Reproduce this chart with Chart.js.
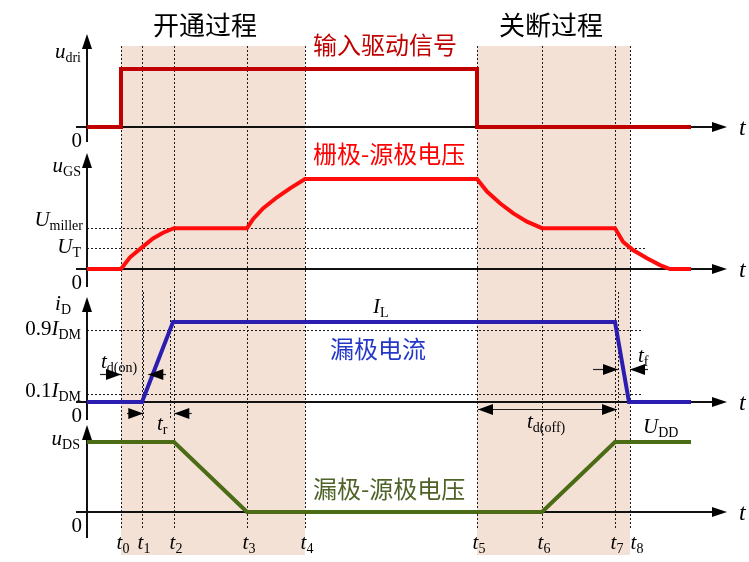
<!DOCTYPE html>
<html>
<head>
<meta charset="utf-8">
<title>MOSFET 开关过程</title>
<script src="https://cdn.jsdelivr.net/npm/chart.js@4.4.0/dist/chart.umd.min.js"></script>
<style>
  html, body { margin: 0; padding: 0; background: #fff; }
  #wrap { width: 749px; height: 562px; }
</style>
</head>
<body>
<div id="wrap"><canvas id="mosChart" width="749" height="562"></canvas></div>
<script>
// time instants t0..t8 (x unit = 10 px of the original drawing)
const timeNames = ['0', '1', '2', '3', '4', '5', '6', '7', '8'];
const timeValues = [3.4, 5.5, 8.7, 16.0, 21.8, 39.0, 45.5, 52.8, 54.3];

// input drive signal (normalised)
const driTime = [0, 3.4, 3.4, 39.0, 39.0, 60.4];
const driValues = [0, 0, 1, 1, 0, 0];

// gate-source voltage (V)
const gsTime = [0, 3.4, 4.3, 5.5, 6.6, 7.6, 8.7, 16.0, 16.6, 17.6, 19.0, 20.3, 21.8,
  39.0, 40.0, 41.3, 42.6, 44.0, 45.5, 52.8, 53.6, 54.6, 56.0, 57.3, 58.3, 60.4];
const gsValues = [0, 0, 1.95, 3.6, 5.1, 6.05, 6.8, 6.8, 8.3, 10.1, 11.95, 13.45, 15,
  15, 12.9, 10.95, 9.3, 7.9, 6.8, 6.8, 4.55, 3.15, 1.8, 0.65, 0, 0];
const gsLevels = [6.8, 3.5];          // U_miller, U_T

// drain current (in I_DM)
const idTime = [0, 5.5, 8.6, 52.8, 54.2, 60.4];
const idValues = [0, 0, 1, 1, 0, 0];
const idLevels = [0.9, 0.1];

// drain-source voltage (in U_DD)
const dsTime = [0, 8.7, 16.0, 45.5, 52.8, 60.4];
const dsValues = [1, 1, 0, 0, 1, 1];

const toXY = (ts, vs) => ts.map((t, i) => ({ x: t, y: vs[i] }));

const SERIF = '"Liberation Serif", "Times New Roman", serif';
const CJK = '"Noto Sans CJK SC", "Noto Sans", sans-serif';

// text with italic letters and subscripts: parts = [[text, 'i'|'n'|'s'], ...]
function richText(ctx, parts, x, y, align) {
    const fonts = { i: 'italic 21px ' + SERIF, n: '21px ' + SERIF, s: '14px ' + SERIF };
    const dy = { i: 0, n: 0, s: 4 };
    let w = 0;
    parts.forEach(p => { ctx.font = fonts[p[1]]; w += ctx.measureText(p[0]).width; });
    let cx = align === 'right' ? x - w : (align === 'center' ? x - w / 2 : x);
    ctx.textAlign = 'left';
    ctx.textBaseline = 'alphabetic';
    parts.forEach(p => {
        ctx.font = fonts[p[1]];
        ctx.fillText(p[0], cx, y + dy[p[1]]);
        cx += ctx.measureText(p[0]).width;
    });
}

function arrowHead(ctx, x, y, dir, len, half) {
    ctx.beginPath();
    if (dir === 'up') { ctx.moveTo(x, y); ctx.lineTo(x - half, y + len); ctx.lineTo(x + half, y + len); }
    else if (dir === 'right') { ctx.moveTo(x, y); ctx.lineTo(x - len, y - half); ctx.lineTo(x - len, y + half); }
    else { ctx.moveTo(x, y); ctx.lineTo(x + len, y - half); ctx.lineTo(x + len, y + half); }
    ctx.closePath();
    ctx.fill();
}

function seg(ctx, x1, y1, x2, y2) {
    ctx.beginPath(); ctx.moveTo(x1, y1); ctx.lineTo(x2, y2); ctx.stroke();
}

const mosfetDecor = {
    id: 'mosfetDecor',
    beforeDatasetsDraw(chart) {
        const ctx = chart.ctx;
        const X = v => chart.scales.x.getPixelForValue(v);
        const Y = (id, v) => chart.scales[id].getPixelForValue(v);
        const top = Y('yDri', 0) - 81;
        const shadeBottom = Y('yDS', 0) + 43;
        const dotBottom = Y('yDS', 0) + 16;

        ctx.save();
        // shaded switching intervals
        ctx.fillStyle = '#f4e1d5';
        ctx.fillRect(X(timeValues[0]), top, X(timeValues[4]) - X(timeValues[0]), shadeBottom - top);
        ctx.fillRect(X(timeValues[5]), top, X(timeValues[8]) - X(timeValues[5]), shadeBottom - top);

        // dotted guides
        ctx.strokeStyle = '#1a1a1a';
        ctx.lineWidth = 1;
        ctx.setLineDash([2, 2]);
        timeValues.forEach(t => {
            const x = Math.round(X(t)) + 0.5;
            seg(ctx, x, top, x, dotBottom);
        });
        [5.6, 8.3, 53.1].forEach(t => {
            const x = Math.round(X(t)) + 0.5;
            seg(ctx, x, Y('yD', 0) - 110, x, Y('yD', 0) + 18);
        });
        const gsEnds = [39.1, 56.0];
        gsLevels.forEach((v, i) => {
            const y = Math.round(Y('yGS', v)) + 0.5;
            seg(ctx, X(0), y, X(gsEnds[i]), y);
        });
        idLevels.forEach(v => {
            const y = Math.round(Y('yD', v)) + 0.5;
            seg(ctx, X(0), y, X(55.6), y);
        });
        ctx.setLineDash([]);

        // axes with arrows
        const panels = [['yDri', -93, 15], ['yGS', -116, 18], ['yD', -105, 18], ['yDS', -87, 26]];
        ctx.strokeStyle = '#111';
        ctx.fillStyle = '#000';
        ctx.lineWidth = 2;
        panels.forEach(p => {
            const y0 = Y(p[0], 0);
            const x0 = X(0);
            seg(ctx, x0, y0 + p[1] + 10, x0, y0 + p[2]);
            arrowHead(ctx, x0, y0 + p[1], 'up', 15, 5);
            seg(ctx, X(-1.1), y0, X(64) - 12, y0);
            arrowHead(ctx, X(64), y0, 'right', 15, 5);
        });
        ctx.restore();
    },
    afterDatasetsDraw(chart) {
        const ctx = chart.ctx;
        const X = v => chart.scales.x.getPixelForValue(v);
        const Y = (id, v) => chart.scales[id].getPixelForValue(v);
        const z1 = Y('yDri', 0), z2 = Y('yGS', 0), z3 = Y('yD', 0), z4 = Y('yDS', 0);

        ctx.save();
        ctx.fillStyle = '#000';

        // axis names
        richText(ctx, [['u', 'i'], ['dri', 's']], 81, z1 - 69, 'right');
        richText(ctx, [['u', 'i'], ['GS', 's']], 81, z2 - 97, 'right');
        richText(ctx, [['U', 'i'], ['miller', 's']], 83, z2 - 43, 'right');
        richText(ctx, [['U', 'i'], ['T', 's']], 81, z2 - 16, 'right');
        richText(ctx, [['i', 'i'], ['D', 's']], 71, z3 - 92, 'right');
        richText(ctx, [['0.9', 'n'], ['I', 'i'], ['DM', 's']], 81, z3 - 67, 'right');
        richText(ctx, [['0.1', 'n'], ['I', 'i'], ['DM', 's']], 81, z3 - 5, 'right');
        richText(ctx, [['u', 'i'], ['DS', 's']], 80, z4 - 67, 'right');
        [z1, z2, z3, z4].forEach(z => {
            richText(ctx, [['0', 'n']], 82, z + 20, 'right');
            ctx.font = 'italic 24px ' + SERIF;
            ctx.fillText('t', 739, z + 8);
        });

        // time instants
        timeValues.forEach((t, i) => {
            const shift = i === 8 ? 7 : 2;
            richText(ctx, [['t', 'i'], [timeNames[i], 's']], X(t) + shift, z4 + 37, 'center');
        });

        // level / interval names
        richText(ctx, [['I', 'i'], ['L', 's']], X(28.6), z3 - 89, 'left');
        richText(ctx, [['U', 'i'], ['DD', 's']], X(55.6), z4 - 79, 'left');
        richText(ctx, [['t', 'i'], ['d(on)', 's']], X(1.4), z3 - 34, 'left');
        richText(ctx, [['t', 'i'], ['r', 's']], X(7.0), z3 + 28, 'left');
        richText(ctx, [['t', 'i'], ['d(off)', 's']], X(44.0), z3 + 26, 'left');
        richText(ctx, [['t', 'i'], ['f', 's']], X(55.1), z3 - 40, 'left');

        // interval arrows
        ctx.strokeStyle = '#222';
        ctx.lineWidth = 1.2;
        const arrows = [
            [z3 - 28, 1.3, 3.4, 'right'], [z3 - 28, 7.9, 6.13, 'left'],
            [z3 + 11, 4.0, 5.63, 'right'], [z3 + 11, 10.47, 8.73, 'left'],
            [z3 - 33, 50.6, 53.1, 'right'], [z3 - 33, 56.1, 54.3, 'left']
        ];
        arrows.forEach(a => {
            const y = Math.round(a[0]) + 0.5;
            seg(ctx, X(a[1]), y, X(a[2]), y);
            arrowHead(ctx, X(a[2]), y, a[3], 15, 5.5);
        });
        const yo = Math.round(z3 + 7) + 0.5;
        seg(ctx, X(39.1), yo, X(53.0), yo);
        arrowHead(ctx, X(39.1), yo, 'left', 15, 5.5);
        arrowHead(ctx, X(53.0), yo, 'right', 15, 5.5);

        // Chinese titles
        ctx.textBaseline = 'middle';
        ctx.textAlign = 'center';
        ctx.font = '26px ' + CJK;
        ctx.fillStyle = '#000';
        ctx.fillText('开通过程', 205, 25);
        ctx.fillText('关断过程', 551, 25);
        ctx.textAlign = 'left';
        ctx.font = '24px ' + CJK;
        ctx.fillStyle = '#c00000';
        ctx.fillText('输入驱动信号', 313, z1 - 82);
        ctx.fillStyle = '#ff0000';
        ctx.fillText('栅极-源极电压', 313, z2 - 115);
        ctx.fillStyle = '#2438c8';
        ctx.fillText('漏极电流', 330, z3 - 53);
        ctx.fillStyle = '#4f6228';
        ctx.fillText('漏极-源极电压', 313, z4 - 23);
        ctx.restore();
    }
};

const lineStyle = { pointRadius: 0, borderWidth: 4, tension: 0, fill: false, borderJoinStyle: 'miter', borderCapStyle: 'butt' };

new Chart(document.getElementById('mosChart'), {
    type: 'line',
    data: {
        datasets: [
            Object.assign({ label: 'u_dri', data: toXY(driTime, driValues), yAxisID: 'yDri', borderColor: '#c00000' }, lineStyle),
            Object.assign({ label: 'u_GS', data: toXY(gsTime, gsValues), yAxisID: 'yGS', borderColor: '#ff0d0d' }, lineStyle),
            Object.assign({ label: 'i_D', data: toXY(idTime, idValues), yAxisID: 'yD', borderColor: '#2a1db0' }, lineStyle),
            Object.assign({ label: 'u_DS', data: toXY(dsTime, dsValues), yAxisID: 'yDS', borderColor: '#4b6b14' }, lineStyle)
        ]
    },
    options: {
        responsive: false,
        animation: false,
        layout: { padding: 0 },
        plugins: { legend: { display: false }, tooltip: { enabled: false } },
        scales: {
            x: { type: 'linear', min: -8.7, max: 66.2, display: false },
            yDS: { type: 'linear', position: 'left', stack: 'sig', stackWeight: 142, weight: 1, min: -0.7143, max: 1.3143, display: false },
            yD: { type: 'linear', position: 'left', stack: 'sig', stackWeight: 135, weight: 2, min: -0.225, max: 1.4625, display: false },
            yGS: { type: 'linear', position: 'left', stack: 'sig', stackWeight: 145, weight: 3, min: -2.667, max: 21.5, display: false },
            yDri: { type: 'linear', position: 'left', stack: 'sig', stackWeight: 140, weight: 4, min: -0.2241, max: 2.1897, display: false }
        }
    },
    plugins: [mosfetDecor]
});
</script>
</body>
</html>
